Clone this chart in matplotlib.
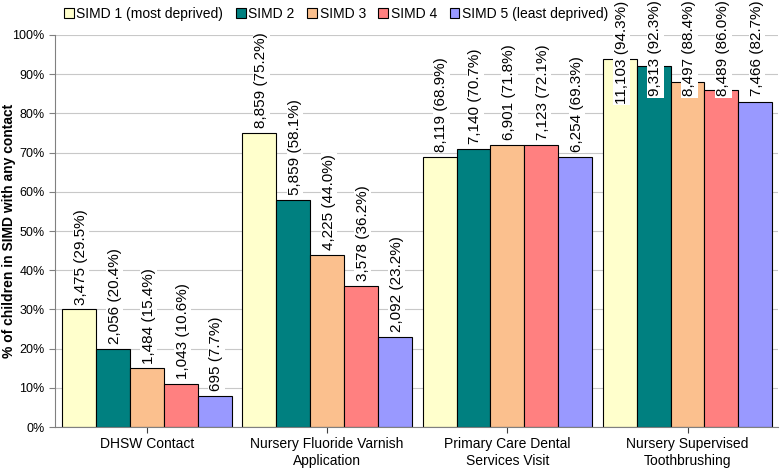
import matplotlib.pyplot as plt
import numpy as np

plt.rcParams['font.family'] = ['Liberation Sans', 'DejaVu Sans']

groups = ['DHSW Contact', 'Nursery Fluoride Varnish\nApplication',
          'Primary Care Dental\nServices Visit', 'Nursery Supervised\nToothbrushing']
series = ['SIMD 1 (most deprived)', 'SIMD 2', 'SIMD 3', 'SIMD 4', 'SIMD 5 (least deprived)']
colors = ['#FFFFCC', '#008080', '#FBC08E', '#FF8080', '#9999FF']

# bar heights (whole percent, as drawn)
heights = [[30, 75, 69, 94],
           [20, 58, 71, 92],
           [15, 44, 72, 88],
           [11, 36, 72, 86],
           [8, 23, 69, 83]]
counts = [['3,475', '8,859', '8,119', '11,103'],
          ['2,056', '5,859', '7,140', '9,313'],
          ['1,484', '4,225', '6,901', '8,497'],
          ['1,043', '3,578', '7,123', '8,489'],
          ['695', '2,092', '6,254', '7,466']]
pcts = [[29.5, 75.2, 68.9, 94.3],
        [20.4, 58.1, 70.7, 92.3],
        [15.4, 44.0, 71.8, 88.4],
        [10.6, 36.2, 72.1, 86.0],
        [7.7, 23.2, 69.3, 82.7]]

fig = plt.figure(figsize=(7.8, 4.71), dpi=100)
ax = fig.add_axes([0.0705, 0.0934, 0.9265, 0.8323])

x = np.arange(len(groups))
w = 0.188
for i in range(len(series)):
    xs = x + (i - 2) * w
    ax.bar(xs, heights[i], w, color=colors[i], edgecolor='black', linewidth=0.8,
           label=series[i], zorder=2)
    for j in range(len(groups)):
        txt = '%s (%.1f%%)' % (counts[i][j], pcts[i][j])
        if heights[i][j] > 80:
            # no room above the bar: label hangs from the top of the figure
            ax.text(xs[j] + 0.01, 108.8, txt, rotation=90, ha='center', va='top',
                    fontsize=11, clip_on=False, zorder=3,
                    bbox=dict(facecolor='white', edgecolor='none', pad=1))
        else:
            ax.text(xs[j] + 0.01, heights[i][j] + 1.2, txt, rotation=90, ha='center',
                    va='bottom', fontsize=11, zorder=3,
                    bbox=dict(facecolor='white', edgecolor='none', pad=1))

ax.set_xlim(-0.51, 3.5)
ax.set_ylim(0, 100)
ax.set_yticks(range(0, 101, 10))
ax.set_yticklabels(['%d%%' % v for v in range(0, 101, 10)], fontsize=9)
ax.set_xticks(x)
ax.set_xticklabels(groups, fontsize=10)
ax.tick_params(axis='x', length=4, color='#404040')
ax.tick_params(axis='y', length=4, color='#808080')
ax.yaxis.grid(True, color='#C8C8C8', linewidth=0.8, zorder=0)
ax.set_axisbelow(True)
for s in ['top', 'right']:
    ax.spines[s].set_visible(False)
ax.spines['left'].set_color('#808080')
ax.spines['bottom'].set_color('#808080')
ax.set_ylabel('% of children in SIMD with any contact', fontsize=10, fontweight='bold')
ax.yaxis.set_label_coords(-0.054, 0.5)

fig.legend(loc='upper left', bbox_to_anchor=(0.066, 1.012), ncol=5, frameon=False,
           fontsize=10, handlelength=0.7, handleheight=0.7, handletextpad=0.2,
           columnspacing=0.9)

fig.savefig('out.png', dpi=100)
